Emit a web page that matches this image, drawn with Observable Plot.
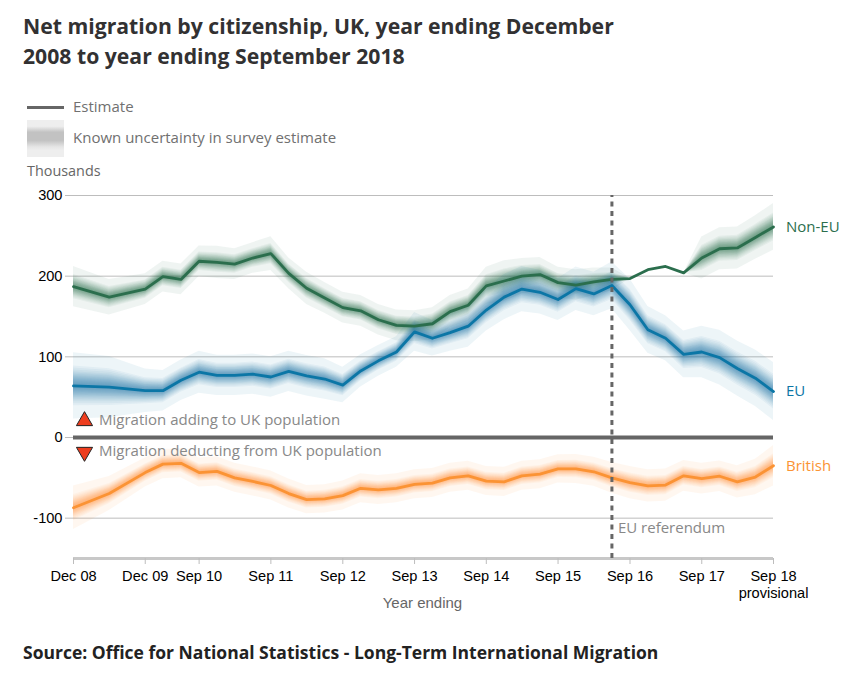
<!DOCTYPE html>
<html><head><meta charset="utf-8">
<script src="https://cdn.jsdelivr.net/npm/d3@7"></script>
<script src="https://cdn.jsdelivr.net/npm/@observablehq/plot@0.6"></script>
<style>
html,body{margin:0;padding:0;background:#fff}
#wrap{position:relative;width:851px;height:687px;overflow:hidden;font-family:"Open Sans",sans-serif}
.abs{position:absolute;white-space:nowrap}
#title{left:23px;top:11px;font-size:21.2px;line-height:30px;font-weight:700;color:#323132}
.leg{left:73px;font-size:15px;color:#707070;line-height:20px}
#source{left:23px;top:640px;font-size:17.5px;line-height:24px;font-weight:700;color:#222}
#plot{position:absolute;left:0;top:180px}
svg{overflow:visible}
</style></head><body>
<div id="wrap">
<div class="abs" id="title">Net migration by citizenship, UK, year ending December<br>2008 to year ending September 2018</div>
<div class="abs" style="left:27px;top:105.5px;width:37px;height:3px;background:#666"></div>
<div class="abs leg" style="top:96px">Estimate</div>
<div class="abs" style="left:27px;top:120px;width:37px;height:37px;background:linear-gradient(#eee 17%,#c2c2c2 33%,#c2c2c2 55%,#e6e6e6 73%,#eee 82%);"></div>
<div class="abs leg" style="top:127px">Known uncertainty in survey estimate</div>
<div class="abs" style="left:27px;top:161px;font-size:14.4px;line-height:20px;color:#666">Thousands</div>
<div id="plot"></div>
<div class="abs" id="source">Source: Office for National Statistics - Long-Term International Migration</div>
</div>
<script>
const periods = ["2008-12","2009-06","2009-12","2010-03","2010-06","2010-09","2010-12","2011-03","2011-06","2011-09","2011-12","2012-03","2012-06","2012-09","2012-12","2013-03","2013-06","2013-09","2013-12","2014-03","2014-06","2014-09","2014-12","2015-03","2015-06","2015-09","2015-12","2016-03","2016-06","2016-09","2016-12","2017-03","2017-06","2017-09","2017-12","2018-03","2018-06","2018-09"];
const nonEU = [187,174,184,199.5,196,218.5,217,215,222.5,228,203.5,185,173,161,157,146,139,138,141,156,164,188,194,200,202,192,189,193,196,197,208,212,204,222.5,234,235,248,261];
const eu = [64,62.5,58,58,71,81,77,77,78.5,75,82,76.5,72.5,65,82.5,95,106,131,123,130,138,158,174,184,180,171,184.5,178,188.5,164.5,133.5,123,103,106,99,85.5,73.5,57];
const british = [-87,-69.5,-43.5,-33,-32,-43.5,-42,-50,-54.5,-59.5,-69.5,-77,-76,-72,-63,-65,-63,-58,-56.5,-50,-47.5,-54,-55,-47.5,-45.5,-39,-39,-42.5,-50,-56,-60,-59,-47.5,-51,-48,-55,-49,-35];
const nonEUError = [25,22,19,19,19,19,20,19,19,21,19,20,19,19,19,19,19,19,20,20,20,23,25,22,21,19,19,17,14,0,0,0,0,26,26,26,27,29];
const euError = [41,38,27,25,25,26,25,25,25,25,25,25,25,22,20,19,19,24,22,23,26,26,28,28,27,26,27,27,29,32,29,28,29,32,34,34,35,36];
const britishError = [27,21,18,18,18,18,18,18,18,18,18,17.5,17.5,18,18,18,18,18,18,18,18,18,18,18,18,17.5,18,18,19,20,20,20,19,19,19,20,22,25];
const yTicks = [-100,0,100,200,300];
const xTicks = ["2008-12","2009-12","2010-09","2011-09","2012-09","2013-09","2014-09","2015-09","2016-09","2017-09","2018-09"];
const xTickLabels = ["Dec 08","Dec 09","Sep 10","Sep 11","Sep 12","Sep 13","Sep 14","Sep 15","Sep 16","Sep 17","Sep 18\nprovisional"];
const bandSteps = [0.6,0.54,0.48,0.43,0.39,0.35,0.31,0.28,0.25,0.22,0.19,0.16,0.13,0.1,0.07];

const parse = d3.utcParse("%Y-%m");
const table = (values, errors) => periods.map((p,i)=>({date:parse(p),v:values[i],h:errors[i]}));
const seriesList = [
  {name:"Non-EU",rows:table(nonEU,nonEUError),color:"#2b6e4d"},
  {name:"EU",rows:table(eu,euError),color:"#0b76a6"},
  {name:"British",rows:table(british,britishError),color:"#fb9334"}
];
const labelMap = new Map(xTicks.map((t,i)=>[+parse(t),xTickLabels[i]]));
const bands = seriesList.flatMap(s=>[
  Plot.areaY(s.rows,{x:"date",y1:d=>d.v-d.h,y2:d=>d.v+d.h,fill:s.color,fillOpacity:0.075}),
  ...bandSteps.map(f=>Plot.areaY(s.rows,{x:"date",y1:d=>d.v-d.h*f,y2:d=>d.v+d.h*f,fill:s.color,fillOpacity:0.055}))
]);
const lines = seriesList.map(s=>Plot.lineY(s.rows,{x:"date",y:"v",stroke:s.color,strokeWidth:2.8,strokeLinejoin:"round"}));
const ends = seriesList.map(s=>Plot.text([s.rows[s.rows.length-1]],{x:"date",y:"v",text:()=>s.name,fill:s.color,textAnchor:"start",dx:12.5,fontSize:15,fontFamily:"Open Sans"}));
const note = (txt,period,val,dx)=>Plot.text([{date:parse(period),v:val}],{x:"date",y:"v",text:()=>txt,textAnchor:"start",dx,fill:"#888",fontSize:15,fontFamily:"Open Sans"});

const chart = Plot.plot({
  width:851,height:440,marginLeft:73,marginRight:78,marginTop:15,marginBottom:62,
  style:{background:"transparent",overflow:"visible"},
  x:{type:"utc",domain:[parse("2008-12"),parse("2018-09")]},
  y:{domain:[-150,300]},
  marks:[
    Plot.ruleY(yTicks,{stroke:"#bdbdbd",strokeWidth:1,insetLeft:-8}),
    ...bands,
    ...lines,
    Plot.ruleY([0],{stroke:"#666",strokeWidth:4}),
    Plot.ruleY([-150],{stroke:"#c8c8c8",strokeWidth:3}),
    Plot.ruleX([parse("2016-06")],{stroke:"#666",strokeWidth:3,strokeDasharray:"5 4.5",y1:-150,y2:300}),
    Plot.axisY({ticks:yTicks,tickSize:0,tickPadding:11,label:null,tickFormat:d=>String(d),fontSize:14.6,fontFamily:"Liberation Sans",fill:"#000"}),
    Plot.axisX({ticks:xTicks.map(parse),tickFormat:d=>labelMap.get(+d),tickSize:6,tickPadding:5,label:null,stroke:"#bdbdbd",fill:"#000",fontSize:14.6,fontFamily:"Liberation Sans",lineHeight:1.15}),
    Plot.text([{date:parse("2013-10"),v:-150}],{x:"date",y:"v",text:()=>"Year ending",dx:2,dy:45,fill:"#666",fontSize:15,fontFamily:"Liberation Sans"}),
    ...ends,
    Plot.dot([{date:parse("2008-12"),v:20.5}],{x:"date",y:"v",dx:11,symbol:"triangle",r:6,fill:"#ee3d1e",stroke:"#222",strokeWidth:1}),
    Plot.dot([{date:parse("2008-12"),v:-18}],{x:"date",y:"v",dx:11,symbol:"triangle",rotate:180,r:6,fill:"#ee3d1e",stroke:"#222",strokeWidth:1}),
    note("Migration adding to UK population","2008-12",21.5,25.5),
    note("Migration deducting from UK population","2008-12",-17,25.5),
    note("EU referendum","2016-06",-112,6)
  ]
});
document.getElementById("plot").appendChild(chart);
</script>
</body></html>
